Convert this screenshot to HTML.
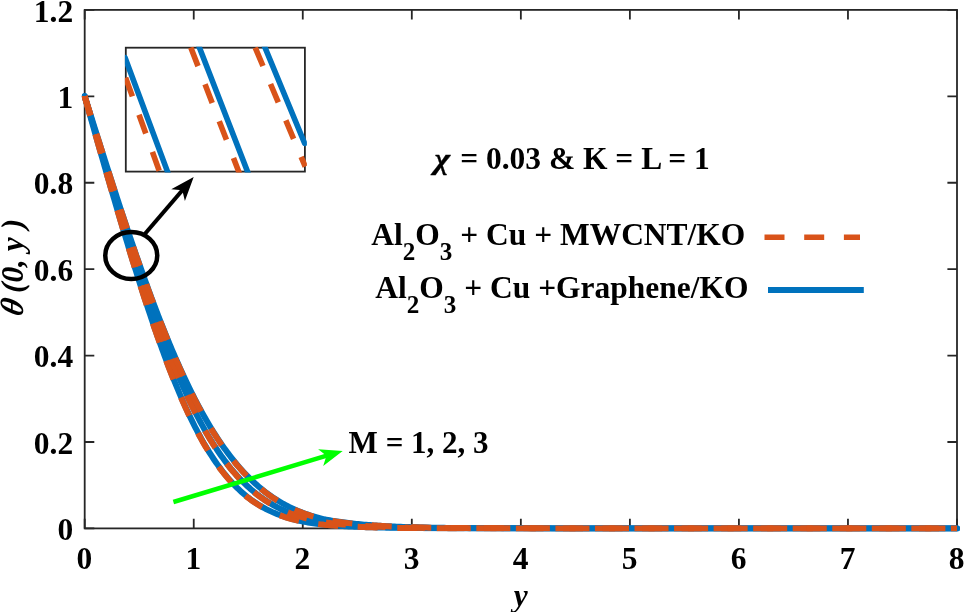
<!DOCTYPE html>
<html><head><meta charset="utf-8"><title>plot</title>
<style>
html,body{margin:0;padding:0;background:#fff;}
svg{display:block;}
text{font-family:"Liberation Serif",serif;font-weight:bold;fill:#000;}
</style></head><body>
<svg width="964" height="612" viewBox="0 0 964 612">
<rect x="0" y="0" width="964" height="612" fill="#fff"/>

<defs><clipPath id="ax"><rect x="81.7" y="9.9" width="878.3" height="521.5"/></clipPath>
<clipPath id="ins"><rect x="124.9" y="46.8" width="182" height="125.7"/></clipPath></defs>
<rect x="84.7" y="9.9" width="872.3" height="518.5" fill="none" stroke="#262626" stroke-width="1.8"/>
<path d="M84.70,528.4 v-9.6 M84.70,9.9 v9.6 M193.74,528.4 v-9.6 M193.74,9.9 v9.6 M302.77,528.4 v-9.6 M302.77,9.9 v9.6 M411.81,528.4 v-9.6 M411.81,9.9 v9.6 M520.85,528.4 v-9.6 M520.85,9.9 v9.6 M629.89,528.4 v-9.6 M629.89,9.9 v9.6 M738.92,528.4 v-9.6 M738.92,9.9 v9.6 M847.96,528.4 v-9.6 M847.96,9.9 v9.6 M957.00,528.4 v-9.6 M957.00,9.9 v9.6 M84.7,528.40 h9.6 M957,528.40 h-9.6 M84.7,441.98 h9.6 M957,441.98 h-9.6 M84.7,355.57 h9.6 M957,355.57 h-9.6 M84.7,269.15 h9.6 M957,269.15 h-9.6 M84.7,182.73 h9.6 M957,182.73 h-9.6 M84.7,96.32 h9.6 M957,96.32 h-9.6 M84.7,9.90 h9.6 M957,9.90 h-9.6" stroke="#262626" stroke-width="1.8" fill="none"/>
<g clip-path="url(#ax)" fill="none" stroke-linejoin="round">
<path d="M84.70,96.32 L84.70,96.33 L84.71,96.37 L84.73,96.43 L84.76,96.52 L84.79,96.63 L84.83,96.77 L84.87,96.93 L84.92,97.12 L84.98,97.33 L85.05,97.57 L85.12,97.83 L85.20,98.11 L85.29,98.43 L85.38,98.76 L85.49,99.12 L85.59,99.51 L85.71,99.92 L85.83,100.36 L85.96,100.82 L86.10,101.31 L86.24,101.82 L86.39,102.35 L86.55,102.91 L86.71,103.50 L86.88,104.11 L87.06,104.74 L87.24,105.40 L87.44,106.08 L87.63,106.79 L87.84,107.52 L88.05,108.28 L88.27,109.06 L88.50,109.87 L88.73,110.70 L88.97,111.55 L89.22,112.43 L89.48,113.33 L89.74,114.26 L90.01,115.21 L90.28,116.19 L90.57,117.19 L90.85,118.21 L91.15,119.26 L91.46,120.33 L91.77,121.43 L92.08,122.55 L92.41,123.69 L92.74,124.86 L93.08,126.05 L93.42,127.27 L93.78,128.51 L94.13,129.77 L94.50,131.06 L94.87,132.37 L95.25,133.71 L95.64,135.06 L96.04,136.45 L96.44,137.85 L96.85,139.28 L97.26,140.73 L97.68,142.21 L98.11,143.71 L98.55,145.23 L98.99,146.78 L99.44,148.34 L99.90,149.94 L100.36,151.55 L100.83,153.19 L101.31,154.85 L101.80,156.53 L102.29,158.24 L102.79,159.97 L103.29,161.72 L103.81,163.50 L104.33,165.30 L104.85,167.12 L105.39,168.96 L105.93,170.82 L106.48,172.71 L107.03,174.62 L107.59,176.55 L108.16,178.51 L108.74,180.48 L109.32,182.48 L109.91,184.50 L110.51,186.54 L111.11,188.61 L111.72,190.69 L112.34,192.80 L112.96,194.92 L113.59,197.07 L114.23,199.24 L114.88,201.43 L115.53,203.64 L116.19,205.87 L116.86,208.12 L117.53,210.40 L118.21,212.69 L118.90,215.00 L119.59,217.33 L120.29,219.68 L121.00,222.05 L121.72,224.44 L122.44,226.85 L123.17,229.28 L123.90,231.72 L124.65,234.19 L125.40,236.67 L126.16,239.17 L126.92,241.69 L127.69,244.22 L128.47,246.77 L129.25,249.34 L130.05,251.92 L130.84,254.52 L131.65,257.14 L132.46,259.77 L133.28,262.41 L134.11,265.07 L134.94,267.74 L135.79,270.43 L136.63,273.13 L137.49,275.84 L138.35,278.57 L139.22,281.31 L140.09,284.05 L140.98,286.81 L141.87,289.58 L142.76,292.37 L143.67,295.15 L144.58,297.95 L145.50,300.76 L146.42,303.58 L147.35,306.40 L148.29,309.23 L149.24,312.06 L150.19,314.90 L151.15,317.75 L152.11,320.60 L153.09,323.45 L154.07,326.31 L155.06,329.17 L156.05,332.03 L157.05,334.89 L158.06,337.75 L159.08,340.61 L160.10,343.47 L161.13,346.33 L162.16,349.18 L163.21,352.03 L164.26,354.88 L165.31,357.72 L166.38,360.56 L167.45,363.39 L168.53,366.21 L169.61,369.02 L170.71,371.83 L171.80,374.63 L172.91,377.41 L174.02,380.19 L175.14,382.95 L176.27,385.70 L177.40,388.43 L178.55,391.15 L179.69,393.86 L180.85,396.55 L182.01,399.22 L183.18,401.88 L184.36,404.52 L185.54,407.13 L186.73,409.73 L187.92,412.31 L189.13,414.87 L190.34,417.40 L191.56,419.91 L192.78,422.40 L194.01,424.86 L195.25,427.30 L196.50,429.71 L197.75,432.10 L199.01,434.46 L200.28,436.79 L201.55,439.10 L202.83,441.37 L204.12,443.62 L205.41,445.84 L206.71,448.02 L208.02,450.18 L209.34,452.30 L210.66,454.40 L211.99,456.46 L213.33,458.49 L214.67,460.48 L216.02,462.45 L217.38,464.38 L218.74,466.27 L220.11,468.14 L221.49,469.97 L222.88,471.76 L224.27,473.52 L225.67,475.25 L227.07,476.94 L228.49,478.59 L229.91,480.21 L231.33,481.80 L232.77,483.35 L234.21,484.87 L235.66,486.35 L237.11,487.80 L238.57,489.21 L240.04,490.59 L241.52,491.94 L243.00,493.25 L244.49,494.52 L245.99,495.77 L247.49,496.98 L249.00,498.16 L250.52,499.30 L252.05,500.42 L253.58,501.50 L255.12,502.55 L256.66,503.57 L258.21,504.55 L259.77,505.51 L261.34,506.44 L262.91,507.34 L264.49,508.21 L266.08,509.05 L267.68,509.86 L269.28,510.65 L270.89,511.41 L272.50,512.14 L274.13,512.85 L275.75,513.53 L277.39,514.19 L279.03,514.82 L280.68,515.43 L282.34,516.02 L284.01,516.59 L285.68,517.13 L287.36,517.65 L289.04,518.15 L290.73,518.64 L292.43,519.10 L294.14,519.54 L295.85,519.97 L297.57,520.37 L299.30,520.76 L301.03,521.14 L302.77,521.49 L304.52,521.84 L306.28,522.16 L308.04,522.47 L309.81,522.77 L311.59,523.06 L313.37,523.33 L315.16,523.59 L316.96,523.83 L318.76,524.07 L320.57,524.29 L322.39,524.50 L324.21,524.71 L326.04,524.88 L327.88,525.03 L329.73,525.18 L331.58,525.33 L333.44,525.47 L335.31,525.60 L337.18,525.73 L339.06,525.85 L340.95,525.97 L342.84,526.08 L344.75,526.19 L346.66,526.30 L348.57,526.40 L350.49,526.49 L352.42,526.59 L354.36,526.67 L356.30,526.76 L358.25,526.84 L360.21,526.92 L362.18,526.99 L364.15,527.06 L366.12,527.13 L368.11,527.19 L370.10,527.25 L372.10,527.31 L374.11,527.37 L376.12,527.42 L378.14,527.47 L380.17,527.52 L382.20,527.57 L384.24,527.61 L386.29,527.66 L388.35,527.70 L390.41,527.73 L392.48,527.77 L394.55,527.81 L396.64,527.84 L398.73,527.87 L400.83,527.90 L402.93,527.93 L405.04,527.95 L407.16,527.98 L409.28,528.00 L411.41,528.03 L413.55,528.05 L415.70,528.07 L417.85,528.09 L420.01,528.11 L422.18,528.12 L424.35,528.14 L426.53,528.16 L428.72,528.17 L430.92,528.19 L433.12,528.20 L435.33,528.21 L437.54,528.22 L439.76,528.23 L441.99,528.24 L444.23,528.25 L446.47,528.26 L448.72,528.27 L450.98,528.28 L453.25,528.29 L455.52,528.30 L457.80,528.30 L460.08,528.31 L462.37,528.31 L464.67,528.32 L466.98,528.33 L469.29,528.33 L471.61,528.34 L473.94,528.34 L476.28,528.34 L478.62,528.35 L480.96,528.35 L483.32,528.35 L485.68,528.36 L488.05,528.36 L490.43,528.36 L492.81,528.37 L495.20,528.37 L497.60,528.37 L500.00,528.37 L502.41,528.38 L504.83,528.38 L507.26,528.38 L509.69,528.38 L512.13,528.38 L514.57,528.38 L517.03,528.38 L519.49,528.39 L521.95,528.39 L524.43,528.39 L526.91,528.39 L529.40,528.39 L531.89,528.39 L534.39,528.39 L536.90,528.39 L539.42,528.39 L541.94,528.39 L544.47,528.39 L547.01,528.39 L549.55,528.39 L552.10,528.40 L554.66,528.40 L557.22,528.40 L559.79,528.40 L562.37,528.40 L564.96,528.40 L567.55,528.40 L570.15,528.40 L572.76,528.40 L575.37,528.40 L577.99,528.40 L580.62,528.40 L583.25,528.40 L585.89,528.40 L588.54,528.40 L591.20,528.40 L593.86,528.40 L596.53,528.40 L599.20,528.40 L601.89,528.40 L604.58,528.40 L607.27,528.40 L609.98,528.40 L612.69,528.40 L615.41,528.40 L618.13,528.40 L620.86,528.40 L623.60,528.40 L626.35,528.40 L629.10,528.40 L631.86,528.40 L634.63,528.40 L637.40,528.40 L640.18,528.40 L642.97,528.40 L645.77,528.40 L648.57,528.40 L651.38,528.40 L654.19,528.40 L657.02,528.40 L659.85,528.40 L662.68,528.40 L665.53,528.40 L668.38,528.40 L671.23,528.40 L674.10,528.40 L676.97,528.40 L679.85,528.40 L682.73,528.40 L685.63,528.40 L688.53,528.40 L691.43,528.40 L694.35,528.40 L697.27,528.40 L700.19,528.40 L703.13,528.40 L706.07,528.40 L709.02,528.40 L711.97,528.40 L714.94,528.40 L717.91,528.40 L720.88,528.40 L723.87,528.40 L726.86,528.40 L729.85,528.40 L732.86,528.40 L735.87,528.40 L738.89,528.40 L741.91,528.40 L744.94,528.40 L747.98,528.40 L751.03,528.40 L754.08,528.40 L757.14,528.40 L760.21,528.40 L763.28,528.40 L766.36,528.40 L769.45,528.40 L772.55,528.40 L775.65,528.40 L778.76,528.40 L781.87,528.40 L785.00,528.40 L788.13,528.40 L791.26,528.40 L794.41,528.40 L797.56,528.40 L800.72,528.40 L803.88,528.40 L807.05,528.40 L810.23,528.40 L813.42,528.40 L816.61,528.40 L819.81,528.40 L823.01,528.40 L826.23,528.40 L829.45,528.40 L832.68,528.40 L835.91,528.40 L839.15,528.40 L842.40,528.40 L845.66,528.40 L848.92,528.40 L852.19,528.40 L855.46,528.40 L858.75,528.40 L862.04,528.40 L865.34,528.40 L868.64,528.40 L871.95,528.40 L875.27,528.40 L878.59,528.40 L881.93,528.40 L885.27,528.40 L888.61,528.40 L891.96,528.40 L895.32,528.40 L898.69,528.40 L902.07,528.40 L905.45,528.40 L908.84,528.40 L912.23,528.40 L915.63,528.40 L919.04,528.40 L922.46,528.40 L925.88,528.40 L929.31,528.40 L932.75,528.40 L936.19,528.40 L939.64,528.40 L943.10,528.40 L946.56,528.40 L950.04,528.40 L953.51,528.40 L957.00,528.40" stroke="#0072BD" stroke-width="6" stroke-linecap="round"/>
<path d="M84.70,96.32 L84.70,96.33 L84.71,96.36 L84.73,96.42 L84.76,96.50 L84.79,96.61 L84.83,96.74 L84.87,96.89 L84.92,97.06 L84.98,97.26 L85.05,97.48 L85.12,97.73 L85.20,98.00 L85.29,98.29 L85.38,98.60 L85.49,98.94 L85.59,99.30 L85.71,99.69 L85.83,100.09 L85.96,100.52 L86.10,100.98 L86.24,101.46 L86.39,101.96 L86.55,102.48 L86.71,103.03 L86.88,103.60 L87.06,104.19 L87.24,104.81 L87.44,105.45 L87.63,106.11 L87.84,106.80 L88.05,107.51 L88.27,108.24 L88.50,109.00 L88.73,109.77 L88.97,110.58 L89.22,111.40 L89.48,112.25 L89.74,113.12 L90.01,114.01 L90.28,114.93 L90.57,115.87 L90.85,116.83 L91.15,117.82 L91.46,118.83 L91.77,119.86 L92.08,120.91 L92.41,121.99 L92.74,123.09 L93.08,124.21 L93.42,125.36 L93.78,126.53 L94.13,127.72 L94.50,128.93 L94.87,130.17 L95.25,131.43 L95.64,132.71 L96.04,134.01 L96.44,135.34 L96.85,136.69 L97.26,138.06 L97.68,139.45 L98.11,140.87 L98.55,142.31 L98.99,143.77 L99.44,145.25 L99.90,146.76 L100.36,148.29 L100.83,149.84 L101.31,151.41 L101.80,153.00 L102.29,154.62 L102.79,156.26 L103.29,157.92 L103.81,159.60 L104.33,161.30 L104.85,163.02 L105.39,164.77 L105.93,166.54 L106.48,168.33 L107.03,170.14 L107.59,171.97 L108.16,173.82 L108.74,175.69 L109.32,177.59 L109.91,179.50 L110.51,181.44 L111.11,183.39 L111.72,185.37 L112.34,187.37 L112.96,189.38 L113.59,191.42 L114.23,193.48 L114.88,195.56 L115.53,197.65 L116.19,199.77 L116.86,201.90 L117.53,204.06 L118.21,206.23 L118.90,208.43 L119.59,210.64 L120.29,212.87 L121.00,215.11 L121.72,217.38 L122.44,219.66 L123.17,221.97 L123.90,224.28 L124.65,226.62 L125.40,228.97 L126.16,231.34 L126.92,233.73 L127.69,236.13 L128.47,238.55 L129.25,240.99 L130.05,243.43 L130.84,245.90 L131.65,248.38 L132.46,250.87 L133.28,253.38 L134.11,255.90 L134.94,258.44 L135.79,260.98 L136.63,263.54 L137.49,266.12 L138.35,268.70 L139.22,271.30 L140.09,273.91 L140.98,276.53 L141.87,279.16 L142.76,281.79 L143.67,284.44 L144.58,287.10 L145.50,289.77 L146.42,292.44 L147.35,295.12 L148.29,297.81 L149.24,300.51 L150.19,303.21 L151.15,305.92 L152.11,308.63 L153.09,311.35 L154.07,314.07 L155.06,316.80 L156.05,319.53 L157.05,322.26 L158.06,324.99 L159.08,327.72 L160.10,330.46 L161.13,333.19 L162.16,335.93 L163.21,338.66 L164.26,341.39 L165.31,344.12 L166.38,346.85 L167.45,349.57 L168.53,352.29 L169.61,355.00 L170.71,357.71 L171.80,360.41 L172.91,363.11 L174.02,365.80 L175.14,368.48 L176.27,371.15 L177.40,373.81 L178.55,376.46 L179.69,379.10 L180.85,381.73 L182.01,384.35 L183.18,386.95 L184.36,389.55 L185.54,392.12 L186.73,394.69 L187.92,397.23 L189.13,399.76 L190.34,402.28 L191.56,404.78 L192.78,407.26 L194.01,409.72 L195.25,412.16 L196.50,414.58 L197.75,416.99 L199.01,419.37 L200.28,421.73 L201.55,424.07 L202.83,426.38 L204.12,428.68 L205.41,430.94 L206.71,433.19 L208.02,435.41 L209.34,437.61 L210.66,439.78 L211.99,441.92 L213.33,444.04 L214.67,446.13 L216.02,448.20 L217.38,450.23 L218.74,452.24 L220.11,454.22 L221.49,456.17 L222.88,458.10 L224.27,459.99 L225.67,461.86 L227.07,463.69 L228.49,465.50 L229.91,467.27 L231.33,469.02 L232.77,470.73 L234.21,472.42 L235.66,474.07 L237.11,475.69 L238.57,477.29 L240.04,478.85 L241.52,480.38 L243.00,481.88 L244.49,483.35 L245.99,484.78 L247.49,486.19 L249.00,487.57 L250.52,488.91 L252.05,490.23 L253.58,491.51 L255.12,492.77 L256.66,493.99 L258.21,495.19 L259.77,496.35 L261.34,497.49 L262.91,498.60 L264.49,499.67 L266.08,500.72 L267.68,501.74 L269.28,502.74 L270.89,503.70 L272.50,504.64 L274.13,505.55 L275.75,506.44 L277.39,507.30 L279.03,508.13 L280.68,508.94 L282.34,509.72 L284.01,510.48 L285.68,511.21 L287.36,511.92 L289.04,512.61 L290.73,513.27 L292.43,513.91 L294.14,514.53 L295.85,515.13 L297.57,515.71 L299.30,516.26 L301.03,516.80 L302.77,517.32 L304.52,517.82 L306.28,518.30 L308.04,518.76 L309.81,519.20 L311.59,519.63 L313.37,520.04 L315.16,520.43 L316.96,520.81 L318.76,521.17 L320.57,521.52 L322.39,521.85 L324.21,522.17 L326.04,522.44 L327.88,522.68 L329.73,522.92 L331.58,523.14 L333.44,523.36 L335.31,523.57 L337.18,523.78 L339.06,523.98 L340.95,524.17 L342.84,524.35 L344.75,524.52 L346.66,524.69 L348.57,524.86 L350.49,525.02 L352.42,525.17 L354.36,525.31 L356.30,525.45 L358.25,525.59 L360.21,525.72 L362.18,525.84 L364.15,525.96 L366.12,526.07 L368.11,526.18 L370.10,526.29 L372.10,526.39 L374.11,526.49 L376.12,526.58 L378.14,526.67 L380.17,526.75 L382.20,526.83 L384.24,526.91 L386.29,526.99 L388.35,527.06 L390.41,527.13 L392.48,527.19 L394.55,527.25 L396.64,527.31 L398.73,527.37 L400.83,527.42 L402.93,527.47 L405.04,527.52 L407.16,527.57 L409.28,527.61 L411.41,527.66 L413.55,527.70 L415.70,527.74 L417.85,527.77 L420.01,527.81 L422.18,527.84 L424.35,527.87 L426.53,527.90 L428.72,527.93 L430.92,527.96 L433.12,527.98 L435.33,528.01 L437.54,528.03 L439.76,528.05 L441.99,528.07 L444.23,528.09 L446.47,528.11 L448.72,528.13 L450.98,528.14 L453.25,528.16 L455.52,528.17 L457.80,528.19 L460.08,528.20 L462.37,528.21 L464.67,528.23 L466.98,528.24 L469.29,528.25 L471.61,528.26 L473.94,528.27 L476.28,528.27 L478.62,528.28 L480.96,528.29 L483.32,528.30 L485.68,528.30 L488.05,528.31 L490.43,528.32 L492.81,528.32 L495.20,528.33 L497.60,528.33 L500.00,528.34 L502.41,528.34 L504.83,528.35 L507.26,528.35 L509.69,528.35 L512.13,528.36 L514.57,528.36 L517.03,528.36 L519.49,528.37 L521.95,528.37 L524.43,528.37 L526.91,528.37 L529.40,528.37 L531.89,528.38 L534.39,528.38 L536.90,528.38 L539.42,528.38 L541.94,528.38 L544.47,528.38 L547.01,528.39 L549.55,528.39 L552.10,528.39 L554.66,528.39 L557.22,528.39 L559.79,528.39 L562.37,528.39 L564.96,528.39 L567.55,528.39 L570.15,528.39 L572.76,528.39 L575.37,528.39 L577.99,528.39 L580.62,528.40 L583.25,528.40 L585.89,528.40 L588.54,528.40 L591.20,528.40 L593.86,528.40 L596.53,528.40 L599.20,528.40 L601.89,528.40 L604.58,528.40 L607.27,528.40 L609.98,528.40 L612.69,528.40 L615.41,528.40 L618.13,528.40 L620.86,528.40 L623.60,528.40 L626.35,528.40 L629.10,528.40 L631.86,528.40 L634.63,528.40 L637.40,528.40 L640.18,528.40 L642.97,528.40 L645.77,528.40 L648.57,528.40 L651.38,528.40 L654.19,528.40 L657.02,528.40 L659.85,528.40 L662.68,528.40 L665.53,528.40 L668.38,528.40 L671.23,528.40 L674.10,528.40 L676.97,528.40 L679.85,528.40 L682.73,528.40 L685.63,528.40 L688.53,528.40 L691.43,528.40 L694.35,528.40 L697.27,528.40 L700.19,528.40 L703.13,528.40 L706.07,528.40 L709.02,528.40 L711.97,528.40 L714.94,528.40 L717.91,528.40 L720.88,528.40 L723.87,528.40 L726.86,528.40 L729.85,528.40 L732.86,528.40 L735.87,528.40 L738.89,528.40 L741.91,528.40 L744.94,528.40 L747.98,528.40 L751.03,528.40 L754.08,528.40 L757.14,528.40 L760.21,528.40 L763.28,528.40 L766.36,528.40 L769.45,528.40 L772.55,528.40 L775.65,528.40 L778.76,528.40 L781.87,528.40 L785.00,528.40 L788.13,528.40 L791.26,528.40 L794.41,528.40 L797.56,528.40 L800.72,528.40 L803.88,528.40 L807.05,528.40 L810.23,528.40 L813.42,528.40 L816.61,528.40 L819.81,528.40 L823.01,528.40 L826.23,528.40 L829.45,528.40 L832.68,528.40 L835.91,528.40 L839.15,528.40 L842.40,528.40 L845.66,528.40 L848.92,528.40 L852.19,528.40 L855.46,528.40 L858.75,528.40 L862.04,528.40 L865.34,528.40 L868.64,528.40 L871.95,528.40 L875.27,528.40 L878.59,528.40 L881.93,528.40 L885.27,528.40 L888.61,528.40 L891.96,528.40 L895.32,528.40 L898.69,528.40 L902.07,528.40 L905.45,528.40 L908.84,528.40 L912.23,528.40 L915.63,528.40 L919.04,528.40 L922.46,528.40 L925.88,528.40 L929.31,528.40 L932.75,528.40 L936.19,528.40 L939.64,528.40 L943.10,528.40 L946.56,528.40 L950.04,528.40 L953.51,528.40 L957.00,528.40" stroke="#0072BD" stroke-width="6" stroke-linecap="round"/>
<path d="M84.70,96.32 L84.70,96.33 L84.71,96.36 L84.73,96.42 L84.76,96.49 L84.79,96.59 L84.83,96.71 L84.87,96.86 L84.92,97.02 L84.98,97.21 L85.05,97.42 L85.12,97.65 L85.20,97.91 L85.29,98.19 L85.38,98.48 L85.49,98.81 L85.59,99.15 L85.71,99.51 L85.83,99.90 L85.96,100.31 L86.10,100.74 L86.24,101.19 L86.39,101.67 L86.55,102.17 L86.71,102.69 L86.88,103.23 L87.06,103.79 L87.24,104.38 L87.44,104.99 L87.63,105.62 L87.84,106.27 L88.05,106.95 L88.27,107.64 L88.50,108.36 L88.73,109.11 L88.97,109.87 L89.22,110.65 L89.48,111.46 L89.74,112.29 L90.01,113.14 L90.28,114.02 L90.57,114.91 L90.85,115.83 L91.15,116.77 L91.46,117.73 L91.77,118.72 L92.08,119.72 L92.41,120.75 L92.74,121.80 L93.08,122.87 L93.42,123.97 L93.78,125.08 L94.13,126.22 L94.50,127.38 L94.87,128.56 L95.25,129.77 L95.64,130.99 L96.04,132.24 L96.44,133.51 L96.85,134.80 L97.26,136.11 L97.68,137.45 L98.11,138.80 L98.55,140.18 L98.99,141.58 L99.44,143.00 L99.90,144.44 L100.36,145.91 L100.83,147.39 L101.31,148.90 L101.80,150.42 L102.29,151.97 L102.79,153.54 L103.29,155.13 L103.81,156.75 L104.33,158.38 L104.85,160.03 L105.39,161.71 L105.93,163.40 L106.48,165.12 L107.03,166.85 L107.59,168.61 L108.16,170.38 L108.74,172.18 L109.32,174.00 L109.91,175.84 L110.51,177.69 L111.11,179.57 L111.72,181.47 L112.34,183.38 L112.96,185.32 L113.59,187.27 L114.23,189.24 L114.88,191.24 L115.53,193.25 L116.19,195.28 L116.86,197.32 L117.53,199.39 L118.21,201.48 L118.90,203.58 L119.59,205.70 L120.29,207.84 L121.00,209.99 L121.72,212.16 L122.44,214.35 L123.17,216.56 L123.90,218.78 L124.65,221.02 L125.40,223.27 L126.16,225.55 L126.92,227.83 L127.69,230.13 L128.47,232.45 L129.25,234.78 L130.05,237.13 L130.84,239.49 L131.65,241.86 L132.46,244.25 L133.28,246.65 L134.11,249.06 L134.94,251.49 L135.79,253.93 L136.63,256.38 L137.49,258.84 L138.35,261.32 L139.22,263.80 L140.09,266.30 L140.98,268.80 L141.87,271.32 L142.76,273.85 L143.67,276.38 L144.58,278.92 L145.50,281.48 L146.42,284.04 L147.35,286.60 L148.29,289.18 L149.24,291.76 L150.19,294.35 L151.15,296.94 L152.11,299.54 L153.09,302.14 L154.07,304.75 L155.06,307.37 L156.05,309.98 L157.05,312.60 L158.06,315.22 L159.08,317.85 L160.10,320.47 L161.13,323.10 L162.16,325.72 L163.21,328.35 L164.26,330.98 L165.31,333.60 L166.38,336.23 L167.45,338.85 L168.53,341.47 L169.61,344.09 L170.71,346.70 L171.80,349.31 L172.91,351.92 L174.02,354.52 L175.14,357.11 L176.27,359.70 L177.40,362.28 L178.55,364.85 L179.69,367.42 L180.85,369.97 L182.01,372.52 L183.18,375.06 L184.36,377.59 L185.54,380.11 L186.73,382.61 L187.92,385.11 L189.13,387.59 L190.34,390.06 L191.56,392.52 L192.78,394.96 L194.01,397.39 L195.25,399.80 L196.50,402.20 L197.75,404.58 L199.01,406.95 L200.28,409.29 L201.55,411.63 L202.83,413.94 L204.12,416.23 L205.41,418.51 L206.71,420.77 L208.02,423.00 L209.34,425.22 L210.66,427.42 L211.99,429.59 L213.33,431.75 L214.67,433.88 L216.02,435.99 L217.38,438.08 L218.74,440.14 L220.11,442.18 L221.49,444.20 L222.88,446.19 L224.27,448.16 L225.67,450.10 L227.07,452.02 L228.49,453.91 L229.91,455.78 L231.33,457.63 L232.77,459.44 L234.21,461.23 L235.66,463.00 L237.11,464.73 L238.57,466.44 L240.04,468.13 L241.52,469.78 L243.00,471.41 L244.49,473.01 L245.99,474.59 L247.49,476.13 L249.00,477.65 L250.52,479.14 L252.05,480.61 L253.58,482.04 L255.12,483.45 L256.66,484.83 L258.21,486.18 L259.77,487.51 L261.34,488.81 L262.91,490.08 L264.49,491.32 L266.08,492.54 L267.68,493.73 L269.28,494.89 L270.89,496.02 L272.50,497.13 L274.13,498.21 L275.75,499.27 L277.39,500.30 L279.03,501.30 L280.68,502.28 L282.34,503.23 L284.01,504.16 L285.68,505.06 L287.36,505.94 L289.04,506.80 L290.73,507.63 L292.43,508.43 L294.14,509.22 L295.85,509.98 L297.57,510.71 L299.30,511.43 L301.03,512.12 L302.77,512.79 L304.52,513.45 L306.28,514.07 L308.04,514.68 L309.81,515.27 L311.59,515.84 L313.37,516.39 L315.16,516.92 L316.96,517.44 L318.76,517.93 L320.57,518.41 L322.39,518.87 L324.21,519.31 L326.04,519.67 L327.88,520.01 L329.73,520.33 L331.58,520.65 L333.44,520.95 L335.31,521.24 L337.18,521.53 L339.06,521.80 L340.95,522.07 L342.84,522.33 L344.75,522.58 L346.66,522.82 L348.57,523.05 L350.49,523.27 L352.42,523.49 L354.36,523.69 L356.30,523.90 L358.25,524.09 L360.21,524.28 L362.18,524.46 L364.15,524.63 L366.12,524.80 L368.11,524.96 L370.10,525.11 L372.10,525.26 L374.11,525.40 L376.12,525.54 L378.14,525.67 L380.17,525.80 L382.20,525.92 L384.24,526.04 L386.29,526.15 L388.35,526.26 L390.41,526.36 L392.48,526.46 L394.55,526.55 L396.64,526.64 L398.73,526.73 L400.83,526.81 L402.93,526.89 L405.04,526.97 L407.16,527.04 L409.28,527.11 L411.41,527.18 L413.55,527.24 L415.70,527.30 L417.85,527.36 L420.01,527.41 L422.18,527.47 L424.35,527.52 L426.53,527.56 L428.72,527.61 L430.92,527.65 L433.12,527.69 L435.33,527.73 L437.54,527.77 L439.76,527.80 L441.99,527.84 L444.23,527.87 L446.47,527.90 L448.72,527.93 L450.98,527.96 L453.25,527.98 L455.52,528.01 L457.80,528.03 L460.08,528.05 L462.37,528.07 L464.67,528.09 L466.98,528.11 L469.29,528.13 L471.61,528.15 L473.94,528.16 L476.28,528.18 L478.62,528.19 L480.96,528.20 L483.32,528.22 L485.68,528.23 L488.05,528.24 L490.43,528.25 L492.81,528.26 L495.20,528.27 L497.60,528.28 L500.00,528.28 L502.41,528.29 L504.83,528.30 L507.26,528.31 L509.69,528.31 L512.13,528.32 L514.57,528.32 L517.03,528.33 L519.49,528.33 L521.95,528.34 L524.43,528.34 L526.91,528.35 L529.40,528.35 L531.89,528.35 L534.39,528.36 L536.90,528.36 L539.42,528.36 L541.94,528.37 L544.47,528.37 L547.01,528.37 L549.55,528.37 L552.10,528.38 L554.66,528.38 L557.22,528.38 L559.79,528.38 L562.37,528.38 L564.96,528.38 L567.55,528.38 L570.15,528.39 L572.76,528.39 L575.37,528.39 L577.99,528.39 L580.62,528.39 L583.25,528.39 L585.89,528.39 L588.54,528.39 L591.20,528.39 L593.86,528.39 L596.53,528.39 L599.20,528.39 L601.89,528.39 L604.58,528.40 L607.27,528.40 L609.98,528.40 L612.69,528.40 L615.41,528.40 L618.13,528.40 L620.86,528.40 L623.60,528.40 L626.35,528.40 L629.10,528.40 L631.86,528.40 L634.63,528.40 L637.40,528.40 L640.18,528.40 L642.97,528.40 L645.77,528.40 L648.57,528.40 L651.38,528.40 L654.19,528.40 L657.02,528.40 L659.85,528.40 L662.68,528.40 L665.53,528.40 L668.38,528.40 L671.23,528.40 L674.10,528.40 L676.97,528.40 L679.85,528.40 L682.73,528.40 L685.63,528.40 L688.53,528.40 L691.43,528.40 L694.35,528.40 L697.27,528.40 L700.19,528.40 L703.13,528.40 L706.07,528.40 L709.02,528.40 L711.97,528.40 L714.94,528.40 L717.91,528.40 L720.88,528.40 L723.87,528.40 L726.86,528.40 L729.85,528.40 L732.86,528.40 L735.87,528.40 L738.89,528.40 L741.91,528.40 L744.94,528.40 L747.98,528.40 L751.03,528.40 L754.08,528.40 L757.14,528.40 L760.21,528.40 L763.28,528.40 L766.36,528.40 L769.45,528.40 L772.55,528.40 L775.65,528.40 L778.76,528.40 L781.87,528.40 L785.00,528.40 L788.13,528.40 L791.26,528.40 L794.41,528.40 L797.56,528.40 L800.72,528.40 L803.88,528.40 L807.05,528.40 L810.23,528.40 L813.42,528.40 L816.61,528.40 L819.81,528.40 L823.01,528.40 L826.23,528.40 L829.45,528.40 L832.68,528.40 L835.91,528.40 L839.15,528.40 L842.40,528.40 L845.66,528.40 L848.92,528.40 L852.19,528.40 L855.46,528.40 L858.75,528.40 L862.04,528.40 L865.34,528.40 L868.64,528.40 L871.95,528.40 L875.27,528.40 L878.59,528.40 L881.93,528.40 L885.27,528.40 L888.61,528.40 L891.96,528.40 L895.32,528.40 L898.69,528.40 L902.07,528.40 L905.45,528.40 L908.84,528.40 L912.23,528.40 L915.63,528.40 L919.04,528.40 L922.46,528.40 L925.88,528.40 L929.31,528.40 L932.75,528.40 L936.19,528.40 L939.64,528.40 L943.10,528.40 L946.56,528.40 L950.04,528.40 L953.51,528.40 L957.00,528.40" stroke="#0072BD" stroke-width="6" stroke-linecap="round"/>
<path d="M84.70,96.32 L84.70,96.33 L84.71,96.37 L84.73,96.43 L84.76,96.52 L84.79,96.63 L84.83,96.77 L84.87,96.93 L84.92,97.12 L84.98,97.33 L85.05,97.57 L85.12,97.83 L85.20,98.12 L85.29,98.43 L85.38,98.77 L85.49,99.14 L85.59,99.52 L85.71,99.94 L85.83,100.38 L85.96,100.84 L86.10,101.33 L86.24,101.84 L86.39,102.38 L86.55,102.94 L86.71,103.52 L86.88,104.14 L87.06,104.77 L87.24,105.43 L87.44,106.12 L87.63,106.83 L87.84,107.57 L88.05,108.33 L88.27,109.11 L88.50,109.92 L88.73,110.75 L88.97,111.61 L89.22,112.49 L89.48,113.40 L89.74,114.33 L90.01,115.28 L90.28,116.26 L90.57,117.27 L90.85,118.30 L91.15,119.35 L91.46,120.42 L91.77,121.53 L92.08,122.65 L92.41,123.80 L92.74,124.97 L93.08,126.17 L93.42,127.39 L93.78,128.63 L94.13,129.90 L94.50,131.19 L94.87,132.51 L95.25,133.85 L95.64,135.21 L96.04,136.60 L96.44,138.01 L96.85,139.44 L97.26,140.90 L97.68,142.38 L98.11,143.89 L98.55,145.41 L98.99,146.96 L99.44,148.54 L99.90,150.14 L100.36,151.76 L100.83,153.40 L101.31,155.07 L101.80,156.76 L102.29,158.47 L102.79,160.21 L103.29,161.96 L103.81,163.74 L104.33,165.55 L104.85,167.37 L105.39,169.22 L105.93,171.09 L106.48,172.99 L107.03,174.90 L107.59,176.84 L108.16,178.80 L108.74,180.78 L109.32,182.79 L109.91,184.82 L110.51,186.86 L111.11,188.93 L111.72,191.02 L112.34,193.14 L112.96,195.27 L113.59,197.42 L114.23,199.60 L114.88,201.80 L115.53,204.01 L116.19,206.25 L116.86,208.51 L117.53,210.79 L118.21,213.08 L118.90,215.40 L119.59,217.74 L120.29,220.10 L121.00,222.47 L121.72,224.87 L122.44,227.29 L123.17,229.72 L123.90,232.17 L124.65,234.64 L125.40,237.13 L126.16,239.63 L126.92,242.16 L127.69,244.70 L128.47,247.25 L129.25,249.83 L130.05,252.41 L130.84,255.02 L131.65,257.64 L132.46,260.28 L133.28,262.93 L134.11,265.59 L134.94,268.27 L135.79,270.96 L136.63,273.67 L137.49,276.39 L138.35,279.12 L139.22,281.86 L140.09,284.61 L140.98,287.38 L141.87,290.15 L142.76,292.94 L143.67,295.73 L144.58,298.53 L145.50,301.34 L146.42,304.16 L147.35,306.99 L148.29,309.82 L149.24,312.66 L150.19,315.50 L151.15,318.35 L152.11,321.21 L153.09,324.06 L154.07,326.92 L155.06,329.78 L156.05,332.64 L157.05,335.51 L158.06,338.37 L159.08,341.23 L160.10,344.09 L161.13,346.95 L162.16,349.81 L163.21,352.66 L164.26,355.51 L165.31,358.35 L166.38,361.19 L167.45,364.02 L168.53,366.84 L169.61,369.66 L170.71,372.46 L171.80,375.26 L172.91,378.04 L174.02,380.82 L175.14,383.58 L176.27,386.33 L177.40,389.06 L178.55,391.78 L179.69,394.49 L180.85,397.17 L182.01,399.85 L183.18,402.50 L184.36,405.13 L185.54,407.75 L186.73,410.34 L187.92,412.92 L189.13,415.47 L190.34,418.00 L191.56,420.51 L192.78,422.99 L194.01,425.45 L195.25,427.89 L196.50,430.29 L197.75,432.68 L199.01,435.03 L200.28,437.36 L201.55,439.66 L202.83,441.93 L204.12,444.17 L205.41,446.38 L206.71,448.56 L208.02,450.71 L209.34,452.83 L210.66,454.92 L211.99,456.97 L213.33,459.00 L214.67,460.98 L216.02,462.94 L217.38,464.86 L218.74,466.75 L220.11,468.61 L221.49,470.43 L222.88,472.22 L224.27,473.97 L225.67,475.69 L227.07,477.37 L228.49,479.02 L229.91,480.63 L231.33,482.21 L232.77,483.76 L234.21,485.27 L235.66,486.74 L237.11,488.18 L238.57,489.59 L240.04,490.96 L241.52,492.30 L243.00,493.60 L244.49,494.87 L245.99,496.10 L247.49,497.31 L249.00,498.48 L250.52,499.61 L252.05,500.72 L253.58,501.79 L255.12,502.84 L256.66,503.85 L258.21,504.83 L259.77,505.78 L261.34,506.70 L262.91,507.59 L264.49,508.45 L266.08,509.29 L267.68,510.09 L269.28,510.87 L270.89,511.63 L272.50,512.35 L274.13,513.05 L275.75,513.73 L277.39,514.38 L279.03,515.01 L280.68,515.61 L282.34,516.20 L284.01,516.76 L285.68,517.29 L287.36,517.81 L289.04,518.31 L290.73,518.78 L292.43,519.24 L294.14,519.68 L295.85,520.10 L297.57,520.50 L299.30,520.89 L301.03,521.25 L302.77,521.61 L304.52,521.94 L306.28,522.27 L308.04,522.57 L309.81,522.87 L311.59,523.15 L313.37,523.42 L315.16,523.67 L316.96,523.91 L318.76,524.15 L320.57,524.37 L322.39,524.58 L324.21,524.78 L326.04,524.94 L327.88,525.10 L329.73,525.25 L331.58,525.39 L333.44,525.52 L335.31,525.66 L337.18,525.78 L339.06,525.90 L340.95,526.02 L342.84,526.13 L344.75,526.24 L346.66,526.34 L348.57,526.44 L350.49,526.53 L352.42,526.62 L354.36,526.71 L356.30,526.79 L358.25,526.87 L360.21,526.95 L362.18,527.02 L364.15,527.09 L366.12,527.16 L368.11,527.22 L370.10,527.28 L372.10,527.34 L374.11,527.39 L376.12,527.45 L378.14,527.50 L380.17,527.54 L382.20,527.59 L384.24,527.63 L386.29,527.68 L388.35,527.71 L390.41,527.75 L392.48,527.79 L394.55,527.82 L396.64,527.85 L398.73,527.88 L400.83,527.91 L402.93,527.94 L405.04,527.97 L407.16,527.99 L409.28,528.02 L411.41,528.04 L413.55,528.06 L415.70,528.08 L417.85,528.10 L420.01,528.12 L422.18,528.13 L424.35,528.15 L426.53,528.16 L428.72,528.18 L430.92,528.19 L433.12,528.20 L435.33,528.22 L437.54,528.23 L439.76,528.24 L441.99,528.25 L444.23,528.26 L446.47,528.27 L448.72,528.28 L450.98,528.28 L453.25,528.29 L455.52,528.30 L457.80,528.31 L460.08,528.31 L462.37,528.32 L464.67,528.32 L466.98,528.33 L469.29,528.33 L471.61,528.34 L473.94,528.34 L476.28,528.35 L478.62,528.35 L480.96,528.35 L483.32,528.36 L485.68,528.36 L488.05,528.36 L490.43,528.37 L492.81,528.37 L495.20,528.37 L497.60,528.37 L500.00,528.37 L502.41,528.38 L504.83,528.38 L507.26,528.38 L509.69,528.38 L512.13,528.38 L514.57,528.38 L517.03,528.39 L519.49,528.39 L521.95,528.39 L524.43,528.39 L526.91,528.39 L529.40,528.39 L531.89,528.39 L534.39,528.39 L536.90,528.39 L539.42,528.39 L541.94,528.39 L544.47,528.39 L547.01,528.39 L549.55,528.39 L552.10,528.40 L554.66,528.40 L557.22,528.40 L559.79,528.40 L562.37,528.40 L564.96,528.40 L567.55,528.40 L570.15,528.40 L572.76,528.40 L575.37,528.40 L577.99,528.40 L580.62,528.40 L583.25,528.40 L585.89,528.40 L588.54,528.40 L591.20,528.40 L593.86,528.40 L596.53,528.40 L599.20,528.40 L601.89,528.40 L604.58,528.40 L607.27,528.40 L609.98,528.40 L612.69,528.40 L615.41,528.40 L618.13,528.40 L620.86,528.40 L623.60,528.40 L626.35,528.40 L629.10,528.40 L631.86,528.40 L634.63,528.40 L637.40,528.40 L640.18,528.40 L642.97,528.40 L645.77,528.40 L648.57,528.40 L651.38,528.40 L654.19,528.40 L657.02,528.40 L659.85,528.40 L662.68,528.40 L665.53,528.40 L668.38,528.40 L671.23,528.40 L674.10,528.40 L676.97,528.40 L679.85,528.40 L682.73,528.40 L685.63,528.40 L688.53,528.40 L691.43,528.40 L694.35,528.40 L697.27,528.40 L700.19,528.40 L703.13,528.40 L706.07,528.40 L709.02,528.40 L711.97,528.40 L714.94,528.40 L717.91,528.40 L720.88,528.40 L723.87,528.40 L726.86,528.40 L729.85,528.40 L732.86,528.40 L735.87,528.40 L738.89,528.40 L741.91,528.40 L744.94,528.40 L747.98,528.40 L751.03,528.40 L754.08,528.40 L757.14,528.40 L760.21,528.40 L763.28,528.40 L766.36,528.40 L769.45,528.40 L772.55,528.40 L775.65,528.40 L778.76,528.40 L781.87,528.40 L785.00,528.40 L788.13,528.40 L791.26,528.40 L794.41,528.40 L797.56,528.40 L800.72,528.40 L803.88,528.40 L807.05,528.40 L810.23,528.40 L813.42,528.40 L816.61,528.40 L819.81,528.40 L823.01,528.40 L826.23,528.40 L829.45,528.40 L832.68,528.40 L835.91,528.40 L839.15,528.40 L842.40,528.40 L845.66,528.40 L848.92,528.40 L852.19,528.40 L855.46,528.40 L858.75,528.40 L862.04,528.40 L865.34,528.40 L868.64,528.40 L871.95,528.40 L875.27,528.40 L878.59,528.40 L881.93,528.40 L885.27,528.40 L888.61,528.40 L891.96,528.40 L895.32,528.40 L898.69,528.40 L902.07,528.40 L905.45,528.40 L908.84,528.40 L912.23,528.40 L915.63,528.40 L919.04,528.40 L922.46,528.40 L925.88,528.40 L929.31,528.40 L932.75,528.40 L936.19,528.40 L939.64,528.40 L943.10,528.40 L946.56,528.40 L950.04,528.40 L953.51,528.40 L957.00,528.40" stroke="#D95319" stroke-width="6" stroke-dasharray="20 19.55"/>
<path d="M84.70,96.32 L84.70,96.33 L84.71,96.36 L84.73,96.42 L84.76,96.50 L84.79,96.61 L84.83,96.74 L84.87,96.89 L84.92,97.07 L84.98,97.26 L85.05,97.49 L85.12,97.73 L85.20,98.00 L85.29,98.29 L85.38,98.61 L85.49,98.95 L85.59,99.31 L85.71,99.70 L85.83,100.11 L85.96,100.54 L86.10,101.00 L86.24,101.48 L86.39,101.98 L86.55,102.51 L86.71,103.05 L86.88,103.63 L87.06,104.22 L87.24,104.84 L87.44,105.48 L87.63,106.15 L87.84,106.84 L88.05,107.55 L88.27,108.29 L88.50,109.05 L88.73,109.83 L88.97,110.63 L89.22,111.46 L89.48,112.31 L89.74,113.18 L90.01,114.08 L90.28,115.00 L90.57,115.95 L90.85,116.91 L91.15,117.90 L91.46,118.91 L91.77,119.95 L92.08,121.01 L92.41,122.09 L92.74,123.19 L93.08,124.32 L93.42,125.47 L93.78,126.64 L94.13,127.84 L94.50,129.06 L94.87,130.30 L95.25,131.56 L95.64,132.85 L96.04,134.16 L96.44,135.49 L96.85,136.84 L97.26,138.22 L97.68,139.62 L98.11,141.04 L98.55,142.48 L98.99,143.95 L99.44,145.44 L99.90,146.95 L100.36,148.48 L100.83,150.04 L101.31,151.61 L101.80,153.21 L102.29,154.84 L102.79,156.48 L103.29,158.14 L103.81,159.83 L104.33,161.54 L104.85,163.27 L105.39,165.02 L105.93,166.79 L106.48,168.59 L107.03,170.40 L107.59,172.24 L108.16,174.10 L108.74,175.98 L109.32,177.88 L109.91,179.80 L110.51,181.74 L111.11,183.70 L111.72,185.69 L112.34,187.69 L112.96,189.71 L113.59,191.76 L114.23,193.82 L114.88,195.90 L115.53,198.01 L116.19,200.13 L116.86,202.27 L117.53,204.43 L118.21,206.61 L118.90,208.81 L119.59,211.03 L120.29,213.26 L121.00,215.52 L121.72,217.79 L122.44,220.08 L123.17,222.39 L123.90,224.71 L124.65,227.05 L125.40,229.41 L126.16,231.79 L126.92,234.18 L127.69,236.59 L128.47,239.01 L129.25,241.45 L130.05,243.91 L130.84,246.38 L131.65,248.86 L132.46,251.36 L133.28,253.88 L134.11,256.40 L134.94,258.94 L135.79,261.50 L136.63,264.06 L137.49,266.64 L138.35,269.23 L139.22,271.83 L140.09,274.45 L140.98,277.07 L141.87,279.70 L142.76,282.35 L143.67,285.00 L144.58,287.66 L145.50,290.33 L146.42,293.01 L147.35,295.70 L148.29,298.39 L149.24,301.09 L150.19,303.80 L151.15,306.51 L152.11,309.23 L153.09,311.95 L154.07,314.67 L155.06,317.40 L156.05,320.13 L157.05,322.87 L158.06,325.60 L159.08,328.34 L160.10,331.08 L161.13,333.81 L162.16,336.55 L163.21,339.29 L164.26,342.02 L165.31,344.75 L166.38,347.48 L167.45,350.20 L168.53,352.92 L169.61,355.64 L170.71,358.35 L171.80,361.05 L172.91,363.74 L174.02,366.43 L175.14,369.11 L176.27,371.78 L177.40,374.44 L178.55,377.10 L179.69,379.74 L180.85,382.36 L182.01,384.98 L183.18,387.58 L184.36,390.17 L185.54,392.75 L186.73,395.31 L187.92,397.86 L189.13,400.39 L190.34,402.90 L191.56,405.39 L192.78,407.87 L194.01,410.33 L195.25,412.77 L196.50,415.19 L197.75,417.59 L199.01,419.97 L200.28,422.32 L201.55,424.66 L202.83,426.97 L204.12,429.26 L205.41,431.52 L206.71,433.76 L208.02,435.98 L209.34,438.17 L210.66,440.34 L211.99,442.48 L213.33,444.59 L214.67,446.68 L216.02,448.73 L217.38,450.77 L218.74,452.77 L220.11,454.74 L221.49,456.69 L222.88,458.61 L224.27,460.49 L225.67,462.35 L227.07,464.18 L228.49,465.98 L229.91,467.75 L231.33,469.49 L232.77,471.20 L234.21,472.87 L235.66,474.52 L237.11,476.14 L238.57,477.72 L240.04,479.27 L241.52,480.80 L243.00,482.29 L244.49,483.75 L245.99,485.18 L247.49,486.58 L249.00,487.95 L250.52,489.29 L252.05,490.60 L253.58,491.87 L255.12,493.12 L256.66,494.34 L258.21,495.53 L259.77,496.68 L261.34,497.81 L262.91,498.91 L264.49,499.98 L266.08,501.03 L267.68,502.04 L269.28,503.03 L270.89,503.98 L272.50,504.92 L274.13,505.82 L275.75,506.70 L277.39,507.55 L279.03,508.38 L280.68,509.18 L282.34,509.95 L284.01,510.70 L285.68,511.43 L287.36,512.13 L289.04,512.81 L290.73,513.47 L292.43,514.11 L294.14,514.72 L295.85,515.31 L297.57,515.89 L299.30,516.44 L301.03,516.97 L302.77,517.48 L304.52,517.97 L306.28,518.45 L308.04,518.90 L309.81,519.34 L311.59,519.76 L313.37,520.17 L315.16,520.56 L316.96,520.93 L318.76,521.29 L320.57,521.63 L322.39,521.96 L324.21,522.28 L326.04,522.54 L327.88,522.78 L329.73,523.01 L331.58,523.24 L333.44,523.45 L335.31,523.66 L337.18,523.86 L339.06,524.06 L340.95,524.24 L342.84,524.42 L344.75,524.60 L346.66,524.76 L348.57,524.93 L350.49,525.08 L352.42,525.23 L354.36,525.37 L356.30,525.51 L358.25,525.64 L360.21,525.77 L362.18,525.89 L364.15,526.01 L366.12,526.12 L368.11,526.23 L370.10,526.33 L372.10,526.43 L374.11,526.53 L376.12,526.62 L378.14,526.71 L380.17,526.79 L382.20,526.87 L384.24,526.94 L386.29,527.02 L388.35,527.09 L390.41,527.15 L392.48,527.22 L394.55,527.28 L396.64,527.34 L398.73,527.39 L400.83,527.45 L402.93,527.50 L405.04,527.54 L407.16,527.59 L409.28,527.63 L411.41,527.68 L413.55,527.72 L415.70,527.75 L417.85,527.79 L420.01,527.82 L422.18,527.86 L424.35,527.89 L426.53,527.92 L428.72,527.94 L430.92,527.97 L433.12,527.99 L435.33,528.02 L437.54,528.04 L439.76,528.06 L441.99,528.08 L444.23,528.10 L446.47,528.12 L448.72,528.14 L450.98,528.15 L453.25,528.17 L455.52,528.18 L457.80,528.19 L460.08,528.21 L462.37,528.22 L464.67,528.23 L466.98,528.24 L469.29,528.25 L471.61,528.26 L473.94,528.27 L476.28,528.28 L478.62,528.29 L480.96,528.29 L483.32,528.30 L485.68,528.31 L488.05,528.31 L490.43,528.32 L492.81,528.33 L495.20,528.33 L497.60,528.34 L500.00,528.34 L502.41,528.34 L504.83,528.35 L507.26,528.35 L509.69,528.35 L512.13,528.36 L514.57,528.36 L517.03,528.36 L519.49,528.37 L521.95,528.37 L524.43,528.37 L526.91,528.37 L529.40,528.38 L531.89,528.38 L534.39,528.38 L536.90,528.38 L539.42,528.38 L541.94,528.38 L544.47,528.38 L547.01,528.39 L549.55,528.39 L552.10,528.39 L554.66,528.39 L557.22,528.39 L559.79,528.39 L562.37,528.39 L564.96,528.39 L567.55,528.39 L570.15,528.39 L572.76,528.39 L575.37,528.39 L577.99,528.39 L580.62,528.40 L583.25,528.40 L585.89,528.40 L588.54,528.40 L591.20,528.40 L593.86,528.40 L596.53,528.40 L599.20,528.40 L601.89,528.40 L604.58,528.40 L607.27,528.40 L609.98,528.40 L612.69,528.40 L615.41,528.40 L618.13,528.40 L620.86,528.40 L623.60,528.40 L626.35,528.40 L629.10,528.40 L631.86,528.40 L634.63,528.40 L637.40,528.40 L640.18,528.40 L642.97,528.40 L645.77,528.40 L648.57,528.40 L651.38,528.40 L654.19,528.40 L657.02,528.40 L659.85,528.40 L662.68,528.40 L665.53,528.40 L668.38,528.40 L671.23,528.40 L674.10,528.40 L676.97,528.40 L679.85,528.40 L682.73,528.40 L685.63,528.40 L688.53,528.40 L691.43,528.40 L694.35,528.40 L697.27,528.40 L700.19,528.40 L703.13,528.40 L706.07,528.40 L709.02,528.40 L711.97,528.40 L714.94,528.40 L717.91,528.40 L720.88,528.40 L723.87,528.40 L726.86,528.40 L729.85,528.40 L732.86,528.40 L735.87,528.40 L738.89,528.40 L741.91,528.40 L744.94,528.40 L747.98,528.40 L751.03,528.40 L754.08,528.40 L757.14,528.40 L760.21,528.40 L763.28,528.40 L766.36,528.40 L769.45,528.40 L772.55,528.40 L775.65,528.40 L778.76,528.40 L781.87,528.40 L785.00,528.40 L788.13,528.40 L791.26,528.40 L794.41,528.40 L797.56,528.40 L800.72,528.40 L803.88,528.40 L807.05,528.40 L810.23,528.40 L813.42,528.40 L816.61,528.40 L819.81,528.40 L823.01,528.40 L826.23,528.40 L829.45,528.40 L832.68,528.40 L835.91,528.40 L839.15,528.40 L842.40,528.40 L845.66,528.40 L848.92,528.40 L852.19,528.40 L855.46,528.40 L858.75,528.40 L862.04,528.40 L865.34,528.40 L868.64,528.40 L871.95,528.40 L875.27,528.40 L878.59,528.40 L881.93,528.40 L885.27,528.40 L888.61,528.40 L891.96,528.40 L895.32,528.40 L898.69,528.40 L902.07,528.40 L905.45,528.40 L908.84,528.40 L912.23,528.40 L915.63,528.40 L919.04,528.40 L922.46,528.40 L925.88,528.40 L929.31,528.40 L932.75,528.40 L936.19,528.40 L939.64,528.40 L943.10,528.40 L946.56,528.40 L950.04,528.40 L953.51,528.40 L957.00,528.40" stroke="#D95319" stroke-width="6" stroke-dasharray="20 19.55"/>
<path d="M84.70,96.32 L84.70,96.33 L84.71,96.36 L84.73,96.42 L84.76,96.49 L84.79,96.59 L84.83,96.72 L84.87,96.86 L84.92,97.03 L84.98,97.22 L85.05,97.43 L85.12,97.66 L85.20,97.92 L85.29,98.19 L85.38,98.49 L85.49,98.82 L85.59,99.16 L85.71,99.53 L85.83,99.91 L85.96,100.33 L86.10,100.76 L86.24,101.21 L86.39,101.69 L86.55,102.19 L86.71,102.71 L86.88,103.26 L87.06,103.82 L87.24,104.41 L87.44,105.02 L87.63,105.66 L87.84,106.31 L88.05,106.99 L88.27,107.69 L88.50,108.41 L88.73,109.16 L88.97,109.92 L89.22,110.71 L89.48,111.52 L89.74,112.35 L90.01,113.21 L90.28,114.09 L90.57,114.99 L90.85,115.91 L91.15,116.85 L91.46,117.82 L91.77,118.80 L92.08,119.81 L92.41,120.85 L92.74,121.90 L93.08,122.98 L93.42,124.08 L93.78,125.20 L94.13,126.34 L94.50,127.50 L94.87,128.69 L95.25,129.90 L95.64,131.13 L96.04,132.38 L96.44,133.65 L96.85,134.95 L97.26,136.27 L97.68,137.60 L98.11,138.97 L98.55,140.35 L98.99,141.75 L99.44,143.18 L99.90,144.62 L100.36,146.09 L100.83,147.58 L101.31,149.09 L101.80,150.63 L102.29,152.18 L102.79,153.76 L103.29,155.35 L103.81,156.97 L104.33,158.61 L104.85,160.27 L105.39,161.95 L105.93,163.65 L106.48,165.37 L107.03,167.11 L107.59,168.87 L108.16,170.65 L108.74,172.46 L109.32,174.28 L109.91,176.12 L110.51,177.99 L111.11,179.87 L111.72,181.77 L112.34,183.69 L112.96,185.63 L113.59,187.59 L114.23,189.57 L114.88,191.57 L115.53,193.59 L116.19,195.62 L116.86,197.68 L117.53,199.75 L118.21,201.84 L118.90,203.95 L119.59,206.07 L120.29,208.22 L121.00,210.38 L121.72,212.56 L122.44,214.75 L123.17,216.96 L123.90,219.19 L124.65,221.44 L125.40,223.70 L126.16,225.98 L126.92,228.27 L127.69,230.57 L128.47,232.90 L129.25,235.23 L130.05,237.59 L130.84,239.95 L131.65,242.33 L132.46,244.72 L133.28,247.13 L134.11,249.55 L134.94,251.98 L135.79,254.43 L136.63,256.88 L137.49,259.35 L138.35,261.83 L139.22,264.32 L140.09,266.82 L140.98,269.33 L141.87,271.85 L142.76,274.38 L143.67,276.92 L144.58,279.47 L145.50,282.03 L146.42,284.59 L147.35,287.17 L148.29,289.74 L149.24,292.33 L150.19,294.92 L151.15,297.52 L152.11,300.12 L153.09,302.73 L154.07,305.34 L155.06,307.96 L156.05,310.58 L157.05,313.20 L158.06,315.82 L159.08,318.45 L160.10,321.08 L161.13,323.71 L162.16,326.34 L163.21,328.97 L164.26,331.60 L165.31,334.22 L166.38,336.85 L167.45,339.48 L168.53,342.10 L169.61,344.72 L170.71,347.33 L171.80,349.94 L172.91,352.55 L174.02,355.15 L175.14,357.74 L176.27,360.33 L177.40,362.91 L178.55,365.48 L179.69,368.05 L180.85,370.61 L182.01,373.16 L183.18,375.69 L184.36,378.22 L185.54,380.74 L186.73,383.24 L187.92,385.74 L189.13,388.22 L190.34,390.69 L191.56,393.14 L192.78,395.58 L194.01,398.01 L195.25,400.42 L196.50,402.82 L197.75,405.20 L199.01,407.56 L200.28,409.91 L201.55,412.24 L202.83,414.55 L204.12,416.84 L205.41,419.11 L206.71,421.36 L208.02,423.60 L209.34,425.81 L210.66,428.00 L211.99,430.18 L213.33,432.32 L214.67,434.45 L216.02,436.56 L217.38,438.64 L218.74,440.70 L220.11,442.73 L221.49,444.75 L222.88,446.73 L224.27,448.70 L225.67,450.64 L227.07,452.55 L228.49,454.44 L229.91,456.30 L231.33,458.14 L232.77,459.95 L234.21,461.73 L235.66,463.49 L237.11,465.22 L238.57,466.92 L240.04,468.60 L241.52,470.25 L243.00,471.87 L244.49,473.46 L245.99,475.03 L247.49,476.57 L249.00,478.08 L250.52,479.57 L252.05,481.03 L253.58,482.45 L255.12,483.86 L256.66,485.23 L258.21,486.58 L259.77,487.89 L261.34,489.18 L262.91,490.45 L264.49,491.68 L266.08,492.89 L267.68,494.07 L269.28,495.23 L270.89,496.36 L272.50,497.46 L274.13,498.53 L275.75,499.58 L277.39,500.60 L279.03,501.60 L280.68,502.57 L282.34,503.52 L284.01,504.44 L285.68,505.33 L287.36,506.21 L289.04,507.05 L290.73,507.88 L292.43,508.68 L294.14,509.45 L295.85,510.21 L297.57,510.94 L299.30,511.65 L301.03,512.33 L302.77,513.00 L304.52,513.65 L306.28,514.27 L308.04,514.87 L309.81,515.46 L311.59,516.02 L313.37,516.56 L315.16,517.09 L316.96,517.60 L318.76,518.09 L320.57,518.56 L322.39,519.01 L324.21,519.45 L326.04,519.81 L327.88,520.14 L329.73,520.46 L331.58,520.77 L333.44,521.07 L335.31,521.36 L337.18,521.64 L339.06,521.91 L340.95,522.18 L342.84,522.43 L344.75,522.67 L346.66,522.91 L348.57,523.14 L350.49,523.36 L352.42,523.57 L354.36,523.78 L356.30,523.98 L358.25,524.17 L360.21,524.35 L362.18,524.53 L364.15,524.70 L366.12,524.86 L368.11,525.02 L370.10,525.17 L372.10,525.32 L374.11,525.46 L376.12,525.60 L378.14,525.73 L380.17,525.85 L382.20,525.97 L384.24,526.08 L386.29,526.19 L388.35,526.30 L390.41,526.40 L392.48,526.50 L394.55,526.59 L396.64,526.68 L398.73,526.77 L400.83,526.85 L402.93,526.93 L405.04,527.00 L407.16,527.07 L409.28,527.14 L411.41,527.20 L413.55,527.27 L415.70,527.33 L417.85,527.38 L420.01,527.44 L422.18,527.49 L424.35,527.54 L426.53,527.58 L428.72,527.63 L430.92,527.67 L433.12,527.71 L435.33,527.75 L437.54,527.79 L439.76,527.82 L441.99,527.85 L444.23,527.88 L446.47,527.91 L448.72,527.94 L450.98,527.97 L453.25,527.99 L455.52,528.02 L457.80,528.04 L460.08,528.06 L462.37,528.08 L464.67,528.10 L466.98,528.12 L469.29,528.14 L471.61,528.15 L473.94,528.17 L476.28,528.18 L478.62,528.20 L480.96,528.21 L483.32,528.22 L485.68,528.23 L488.05,528.24 L490.43,528.25 L492.81,528.26 L495.20,528.27 L497.60,528.28 L500.00,528.29 L502.41,528.30 L504.83,528.30 L507.26,528.31 L509.69,528.32 L512.13,528.32 L514.57,528.33 L517.03,528.33 L519.49,528.34 L521.95,528.34 L524.43,528.35 L526.91,528.35 L529.40,528.35 L531.89,528.36 L534.39,528.36 L536.90,528.36 L539.42,528.37 L541.94,528.37 L544.47,528.37 L547.01,528.37 L549.55,528.37 L552.10,528.38 L554.66,528.38 L557.22,528.38 L559.79,528.38 L562.37,528.38 L564.96,528.38 L567.55,528.39 L570.15,528.39 L572.76,528.39 L575.37,528.39 L577.99,528.39 L580.62,528.39 L583.25,528.39 L585.89,528.39 L588.54,528.39 L591.20,528.39 L593.86,528.39 L596.53,528.39 L599.20,528.39 L601.89,528.40 L604.58,528.40 L607.27,528.40 L609.98,528.40 L612.69,528.40 L615.41,528.40 L618.13,528.40 L620.86,528.40 L623.60,528.40 L626.35,528.40 L629.10,528.40 L631.86,528.40 L634.63,528.40 L637.40,528.40 L640.18,528.40 L642.97,528.40 L645.77,528.40 L648.57,528.40 L651.38,528.40 L654.19,528.40 L657.02,528.40 L659.85,528.40 L662.68,528.40 L665.53,528.40 L668.38,528.40 L671.23,528.40 L674.10,528.40 L676.97,528.40 L679.85,528.40 L682.73,528.40 L685.63,528.40 L688.53,528.40 L691.43,528.40 L694.35,528.40 L697.27,528.40 L700.19,528.40 L703.13,528.40 L706.07,528.40 L709.02,528.40 L711.97,528.40 L714.94,528.40 L717.91,528.40 L720.88,528.40 L723.87,528.40 L726.86,528.40 L729.85,528.40 L732.86,528.40 L735.87,528.40 L738.89,528.40 L741.91,528.40 L744.94,528.40 L747.98,528.40 L751.03,528.40 L754.08,528.40 L757.14,528.40 L760.21,528.40 L763.28,528.40 L766.36,528.40 L769.45,528.40 L772.55,528.40 L775.65,528.40 L778.76,528.40 L781.87,528.40 L785.00,528.40 L788.13,528.40 L791.26,528.40 L794.41,528.40 L797.56,528.40 L800.72,528.40 L803.88,528.40 L807.05,528.40 L810.23,528.40 L813.42,528.40 L816.61,528.40 L819.81,528.40 L823.01,528.40 L826.23,528.40 L829.45,528.40 L832.68,528.40 L835.91,528.40 L839.15,528.40 L842.40,528.40 L845.66,528.40 L848.92,528.40 L852.19,528.40 L855.46,528.40 L858.75,528.40 L862.04,528.40 L865.34,528.40 L868.64,528.40 L871.95,528.40 L875.27,528.40 L878.59,528.40 L881.93,528.40 L885.27,528.40 L888.61,528.40 L891.96,528.40 L895.32,528.40 L898.69,528.40 L902.07,528.40 L905.45,528.40 L908.84,528.40 L912.23,528.40 L915.63,528.40 L919.04,528.40 L922.46,528.40 L925.88,528.40 L929.31,528.40 L932.75,528.40 L936.19,528.40 L939.64,528.40 L943.10,528.40 L946.56,528.40 L950.04,528.40 L953.51,528.40 L957.00,528.40" stroke="#D95319" stroke-width="6" stroke-dasharray="20 19.55"/>
</g>
<rect x="125.8" y="47.7" width="179.1" height="123.9" fill="#fff" stroke="#262626" stroke-width="1.8"/>
<g clip-path="url(#ins)" fill="none">
<path d="M125.00,57.60 L168.25,173.61" stroke="#0072BD" stroke-width="5.6" stroke-linecap="round"/>
<path d="M198.32,44.70 L248.28,173.60" stroke="#0072BD" stroke-width="5.6" stroke-linecap="round"/>
<path d="M263.85,44.73 L304.70,143.40" stroke="#0072BD" stroke-width="5.6" stroke-linecap="round"/>
<path d="M98.79,3.28 L206.04,300.53" stroke="#D95319" stroke-width="5.6" stroke-dasharray="20 19.5"/>
<path d="M162.35,-26.23 L276.14,268.57" stroke="#D95319" stroke-width="5.6" stroke-dasharray="20 19.5"/>
<path d="M224.61,-25.25 L305.25,166.60" stroke="#D95319" stroke-width="5.6" stroke-dasharray="20 19.5"/>
</g>
<ellipse cx="131.25" cy="255.5" rx="26" ry="23.5" fill="none" stroke="#000" stroke-width="4.5"/>
<path d="M144.8,234 L186,186" stroke="#000" stroke-width="4.1" fill="none"/>
<path d="M193.70,177.00 L184.90,201.08 L182.31,190.28 L171.24,189.36 Z" fill="#000"/>
<path d="M173.4,502.0 L330,454.7" stroke="#00FF00" stroke-width="4.5" fill="none"/>
<path d="M342.70,450.90 L323.21,465.92 L326.43,455.81 L318.15,449.17 Z" fill="#00FF00"/>
<path d="M764.5,237.25 H860" stroke="#D95319" stroke-width="5.5" stroke-dasharray="20 19.7" fill="none"/>
<path d="M768,290 H863.8" stroke="#0072BD" stroke-width="5.8" fill="none"/>
<text transform="translate(84.40,568.80) scale(0.975,1)" font-size="32.3" text-anchor="middle">0</text>
<text transform="translate(193.44,568.80) scale(0.975,1)" font-size="32.3" text-anchor="middle">1</text>
<text transform="translate(302.47,568.80) scale(0.975,1)" font-size="32.3" text-anchor="middle">2</text>
<text transform="translate(411.51,568.80) scale(0.975,1)" font-size="32.3" text-anchor="middle">3</text>
<text transform="translate(520.55,568.80) scale(0.975,1)" font-size="32.3" text-anchor="middle">4</text>
<text transform="translate(629.59,568.80) scale(0.975,1)" font-size="32.3" text-anchor="middle">5</text>
<text transform="translate(738.62,568.80) scale(0.975,1)" font-size="32.3" text-anchor="middle">6</text>
<text transform="translate(847.66,568.80) scale(0.975,1)" font-size="32.3" text-anchor="middle">7</text>
<text transform="translate(956.70,568.80) scale(0.975,1)" font-size="32.3" text-anchor="middle">8</text>
<text transform="translate(73.20,540.00) scale(0.975,1)" font-size="32.3" text-anchor="end">0</text>
<text transform="translate(73.20,453.58) scale(0.975,1)" font-size="32.3" text-anchor="end">0.2</text>
<text transform="translate(73.20,367.17) scale(0.975,1)" font-size="32.3" text-anchor="end">0.4</text>
<text transform="translate(73.20,280.75) scale(0.975,1)" font-size="32.3" text-anchor="end">0.6</text>
<text transform="translate(73.20,194.33) scale(0.975,1)" font-size="32.3" text-anchor="end">0.8</text>
<text transform="translate(73.20,107.92) scale(0.975,1)" font-size="32.3" text-anchor="end">1</text>
<text transform="translate(73.20,21.50) scale(0.975,1)" font-size="32.3" text-anchor="end">1.2</text>
<text transform="translate(520.80,606.20) scale(0.975,1)" font-size="32.3" text-anchor="middle" font-style="italic">y</text>
<g transform="translate(22.7,268) rotate(-90)" font-size="32.3" font-style="italic">
<text transform="translate(-49.4,0) skewX(-13) scale(0.975,1)">θ</text>
<text transform="translate(-25.1,0) scale(0.975,1)">(0, y )</text>
</g>
<text transform="translate(434.5,168.6) scale(1.12,1)" font-size="30" font-style="italic" font-weight="normal" stroke="#000" stroke-width="0.3">χ</text>
<text transform="translate(460.20,168.90) scale(0.975,1)" font-size="32.3" text-anchor="start">= 0.03 &amp; K = L = 1</text>
<text transform="translate(348.60,453.00) scale(0.961,1)" font-size="32.3" text-anchor="start">M = 1, 2, 3</text>
<text transform="translate(371.30,245.00) scale(0.975,1)" font-size="32.3" text-anchor="start">Al<tspan font-size="25.8" dy="15">2</tspan><tspan dy="-15">O</tspan><tspan font-size="25.8" dy="15">3</tspan><tspan dy="-15"> + Cu + MWCNT/KO</tspan></text>
<text transform="translate(375.30,297.60) scale(0.975,1)" font-size="32.3" text-anchor="start">Al<tspan font-size="25.8" dy="15">2</tspan><tspan dy="-15">O</tspan><tspan font-size="25.8" dy="15">3</tspan><tspan dy="-15"> + Cu +Graphene/KO</tspan></text>
</svg></body></html>
